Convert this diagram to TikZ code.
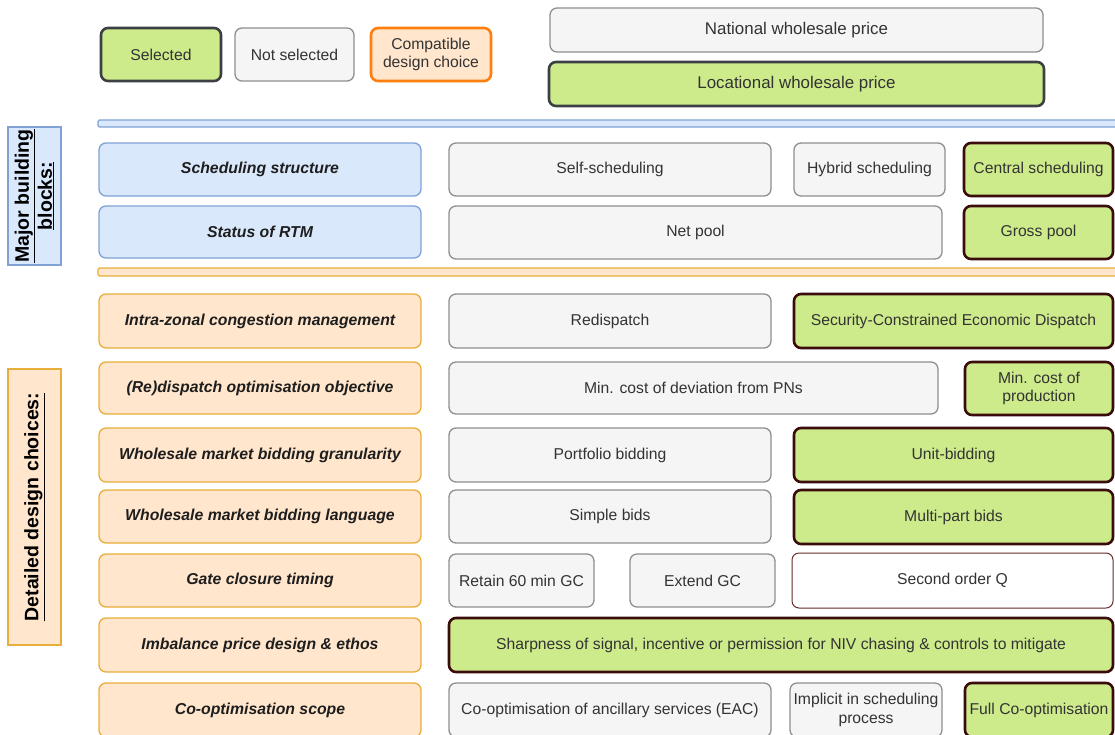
\documentclass[tikz,border=0pt]{standalone}
\usepackage{fontspec}
\setmainfont{Liberation Sans}
\definecolor{selfill}{HTML}{CDEB8B}
\definecolor{selline}{HTML}{3A0C0C}
\definecolor{legline}{HTML}{3C3F43}
\definecolor{nsfill}{HTML}{F5F5F5}
\definecolor{nsline}{HTML}{8F8F8F}
\definecolor{orfill}{HTML}{FFE6CC}
\definecolor{orline}{HTML}{E8AE3A}
\definecolor{orange}{HTML}{FF7F0E}
\definecolor{blfill}{HTML}{DAE8FC}
\definecolor{blline}{HTML}{7FA2D6}
\definecolor{txt}{HTML}{333333}
\definecolor{hdtxt}{HTML}{1E1E1E}
\definecolor{qline}{HTML}{6A2A2A}

\tikzset{
  base/.style={rounded corners=7pt, inner sep=1pt, align=center, text=txt,
    font=\fontsize{15.7}{18.8}\selectfont},
  bigtext/.style={font=\fontsize{16.9}{20}\selectfont},
  selbox/.style={base, fill=selfill, draw=selline, line width=2.6pt},
  legsel/.style={base, fill=selfill, draw=legline, line width=2.6pt},
  nselbox/.style={base, fill=nsfill, draw=nsline, line width=1.3pt},
  compat/.style={base, fill=orfill, draw=orange, line width=2.6pt},
  qbox/.style={base, fill=white, draw=qline, line width=1pt},
  rowblue/.style={base, fill=blfill, draw=blline, line width=1.3pt, text=hdtxt,
    font=\fontsize{15.8}{18.8}\selectfont\bfseries\itshape},
  roworange/.style={base, fill=orfill, draw=orline, line width=1.3pt, text=hdtxt,
    font=\fontsize{15.8}{18.8}\selectfont\bfseries\itshape},
  sepblue/.style={rounded corners=1.5pt, fill=blfill, draw=blline, line width=1.3pt, inner sep=0pt},
  seporange/.style={rounded corners=1.5pt, fill=orfill, draw=orline, line width=1.3pt, inner sep=0pt},
  grouplabel/.style={rotate=90, inner sep=0pt, align=center, text=black,
    font=\fontsize{19.5}{23}\selectfont\bfseries},
}

% box from corner (x1,y1) to corner (x2,y2), pixel-like units, y downwards
\newcommand\bx[7]{%
  \node[#2, minimum width={(#5-#3)*1pt}, minimum height={(#6-#4)*1pt}]
    (#1) at ({(#3+#5)/2},{(#4+#6)/2}) {#7};}

\begin{document}
\begin{tikzpicture}[x=1pt, y=-1pt]
\clip (0,0) rectangle (1115,734);
\fill[white] (0,0) rectangle (1115,734);

% legend
\bx{legSel}{legsel}{101}{28}{221}{81}{Selected}
\bx{legNot}{nselbox}{235}{28}{354}{81}{Not selected}
\bx{legComp}{compat}{371}{28}{491}{81}{Compatible\\design choice}

% wholesale price options
\bx{natPrice}{nselbox,bigtext}{550}{8}{1043}{52}{National wholesale price}
\bx{locPrice}{legsel,bigtext}{549}{62}{1044}{106}{Locational wholesale price}

% separators
\bx{sepTop}{sepblue}{98}{120}{1122}{127}{}
\bx{sepMid}{seporange}{98}{268}{1122}{276}{}

% group labels
\node[grouplabel, fill=blfill, draw=blline, line width=1.3pt,
      minimum width=138pt, minimum height=53pt] (grpMajor) at (34.5,196)
      {\underline{Major building}\\\underline{blocks:}};
\node[grouplabel, fill=orfill, draw=orline, line width=1.3pt,
      minimum width=276pt, minimum height=53pt] (grpDetail) at (34.5,507)
      {\underline{Detailed design choices:}};

% major building blocks
\bx{rSched}{rowblue}{99}{143}{421}{196}{Scheduling structure}
\bx{rRTM}{rowblue}{99}{206}{421}{258}{Status of RTM}
\bx{oSelf}{nselbox}{449}{143}{771}{196}{Self-scheduling}
\bx{oHybrid}{nselbox}{794}{143}{945}{196}{Hybrid scheduling}
\bx{oCentral}{selbox}{964}{143}{1113}{196}{Central scheduling}
\bx{oNet}{nselbox}{449}{206}{942}{259}{Net pool}
\bx{oGross}{selbox}{964}{206}{1113}{259}{Gross pool}

% detailed design choices
\bx{rCong}{roworange}{99}{294}{421}{348}{Intra-zonal congestion management}
\bx{oRedisp}{nselbox}{449}{294}{771}{348}{Redispatch}
\bx{oSCED}{selbox}{794}{294}{1113}{348}{Security-Constrained Economic Dispatch}

\bx{rObj}{roworange}{99}{362}{421}{414}{(Re)dispatch optimisation objective}
\bx{oDev}{nselbox}{449}{362}{938}{414}{Min. cost of deviation from PNs}
\bx{oProd}{selbox}{965}{362}{1113}{415}{Min. cost of\\production}

\bx{rGran}{roworange}{99}{428}{421}{482}{Wholesale market bidding granularity}
\bx{oPort}{nselbox}{449}{428}{771}{482}{Portfolio bidding}
\bx{oUnit}{selbox}{794}{428}{1113}{482}{Unit-bidding}

\bx{rLang}{roworange}{99}{490}{421}{543}{Wholesale market bidding language}
\bx{oSimple}{nselbox}{449}{490}{771}{543}{Simple bids}
\bx{oMulti}{selbox}{794}{490}{1113}{544}{Multi-part bids}

\bx{rGate}{roworange}{99}{554}{421}{607}{Gate closure timing}
\bx{oRetain}{nselbox}{449}{554}{594}{607}{Retain 60 min GC}
\bx{oExtend}{nselbox}{630}{554}{775}{607}{Extend GC}
\bx{oSecond}{qbox}{792}{553}{1113}{608}{Second order Q}

\bx{rImb}{roworange}{99}{618}{421}{672}{Imbalance price design \& ethos}
\bx{oSharp}{selbox}{449}{618}{1113}{672}{Sharpness of signal, incentive or permission for NIV chasing \& controls to mitigate}

\bx{rCoopt}{roworange}{99}{683}{421}{737}{Co-optimisation scope}
\bx{oEAC}{nselbox}{449}{683}{771}{737}{Co-optimisation of ancillary services (EAC)}
\bx{oImpl}{nselbox}{790}{683}{942}{737}{Implicit in scheduling\\process}
\bx{oFull}{selbox}{965}{683}{1113}{737}{Full Co-optimisation}
\end{tikzpicture}
\end{document}
